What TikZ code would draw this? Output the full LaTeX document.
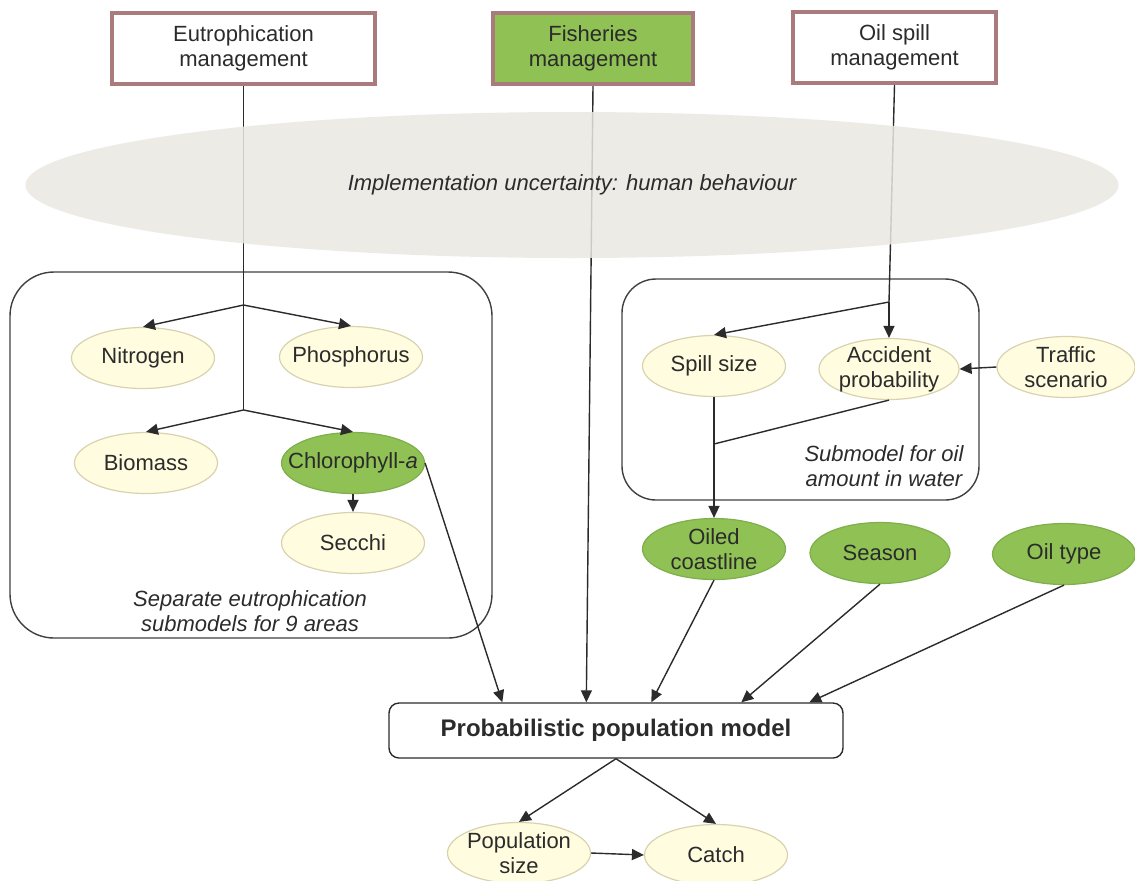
\documentclass[tikz,border=0pt]{standalone}
\usepackage{fontspec}
\setmainfont{Liberation Sans}
\usetikzlibrary{shapes.geometric,arrows.meta}
\definecolor{mgmtborder}{HTML}{A97B7D}
\definecolor{leafgreen}{HTML}{8FC154}
\definecolor{greenedge}{HTML}{7FAF4C}
\definecolor{creamfill}{HTML}{FFFCE0}
\definecolor{creamedge}{HTML}{D8D3AE}
\definecolor{haze}{HTML}{EAE7E2}
\definecolor{ink}{HTML}{2B2B2B}
\begin{document}
\begin{tikzpicture}[x=0.5pt,y=-0.5pt,
  txt/.style={font=\fontsize{11}{12.5}\selectfont, align=center, text=ink},
  itxt/.style={font=\fontsize{11}{12.5}\selectfont\itshape, align=center, text=ink},
  mgmt/.style={txt, draw=mgmtborder, line width=2pt, minimum width=131.5pt, minimum height=35.5pt, inner sep=0pt},
  var/.style={txt, ellipse, draw=creamedge, fill=creamfill, line width=0.6pt, minimum width=71.5pt, minimum height=30.5pt, inner xsep=-20pt, inner ysep=-6pt},
  dec/.style={var, draw=greenedge, fill=leafgreen},
  link/.style={draw=ink, line width=0.7pt},
  arr/.style={link, -{Triangle[length=6pt,width=5.5pt]}},
  frame/.style={draw=ink!90, line width=0.7pt, inner sep=0pt},
]
\useasboundingbox (0,0) rectangle (1135,880);

% management boxes
\node[mgmt] (eu) at (243.5,48.5) {Eutrophication\\management};
\node[mgmt, fill=leafgreen, minimum width=100pt] (fi) at (593,48.5) {Fisheries\\management};
\node[mgmt, minimum width=101.5pt] (oil) at (894.5,47.5) {Oil spill\\management};

% frames
\node[frame, rounded corners=22pt, minimum width=241pt, minimum height=183pt] (euframe) at (251,455) {};
\node[frame, rounded corners=17pt, minimum width=178.5pt, minimum height=110.5pt] (oilframe) at (800.5,389.5) {};
\node[itxt] (eunote) at (250,611) {Separate eutrophication\\submodels for 9 areas};
\node[itxt] (oilnote) at (884,466) {Submodel for oil\\amount in water};

% eutrophication variables
\node[var] (nit) at (143,358) {Nitrogen};
\node[var] (phos) at (351,357) {Phosphorus};
\node[var] (bio) at (146,463) {Biomass};
\node[dec] (chl) at (353,463) {Chlorophyll-\textit{a}};
\node[var] (sec) at (353,543) {Secchi};

% oil variables
\node[var] (spill) at (714,366) {Spill size};
\node[var, minimum width=70pt] (acc) at (889,369) {Accident\\probability};
\node[var, minimum width=69pt] (traf) at (1066,367) {Traffic\\scenario};
\node[dec] (oiled) at (714,549) {Oiled\\coastline};
\node[dec, minimum width=70pt] (season) at (880,553) {Season};
\node[dec] (oilt) at (1064,554) {Oil type};

% population model
\node[draw=ink, line width=0.7pt, rounded corners=5pt, minimum width=227pt, minimum height=27.5pt, font=\fontsize{12}{14}\selectfont\bfseries, text=ink] (ppm) at (616,730.5) {Probabilistic population model};
\node[var] (pop) at (519,853) {Population\\size};
\node[var] (catch) at (716,855) {Catch};

% branch points
\coordinate (b1) at (243.5,305);
\coordinate (b2) at (243.5,410);
\coordinate (b3) at (889,302);
\coordinate (j) at (714,444);

% connectors
\draw[link] (eu.south) -- (b1) -- (b2);
\draw[arr] (b1) -- (nit.north);
\draw[arr] (b1) -- (phos.north);
\draw[arr] (b2) -- (bio.north);
\draw[arr] (b2) -- (chl.north);
\draw[arr] (chl.south) -- (sec.north);
\draw[arr] (chl.east) -- ([xshift=57pt]ppm.north west);
\draw[arr] (fi.south) -- ([xshift=99pt]ppm.north west);

\draw[link] (oil.south) -- (b3);
\draw[arr] (b3) -- (acc.north);
\draw[arr] (b3) -- (spill.north);
\draw[arr] (traf.west) -- (acc.east);
\draw[link] (acc.south) -- (j);
\draw[arr] (spill.south) -- (oiled.north);

\draw[arr] (oiled.south) -- ([xshift=131.5pt]ppm.north west);
\draw[arr] (season.south) -- ([xshift=176.5pt]ppm.north west);
\draw[arr] (oilt.south) -- ([xshift=210.5pt]ppm.north west);

\draw[arr] (ppm.south) -- (pop.north);
\draw[arr] (ppm.south) -- (catch.north);
\draw[arr] (pop.east) -- (catch.west);

% uncertainty haze on top of the lines
\node[ellipse, fill=haze, fill opacity=0.85, text opacity=1, minimum width=546.5pt, minimum height=73pt, itxt] (unc) at (572,185) {Implementation uncertainty: human behaviour};
\end{tikzpicture}
\end{document}
